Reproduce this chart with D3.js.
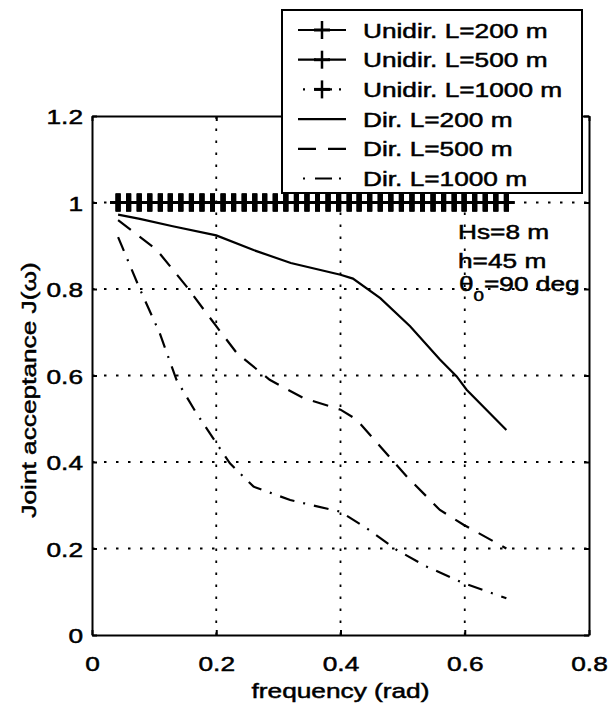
<!DOCTYPE html>
<html>
<head>
<meta charset="utf-8">
<script src="https://cdn.jsdelivr.net/npm/d3@7"></script>
<style>
  body { margin: 0; background: #fff; }
  svg { display: block; }
  text { font-family: "Liberation Sans", Arial, Helvetica, sans-serif; }
</style>
</head>
<body>
<svg id="chart" width="615" height="706"></svg>
<script>
// Tick values and labels
const xTicks = [0, 0.2, 0.4, 0.6, 0.8];
const xTickLabels = ["0", "0.2", "0.4", "0.6", "0.8"];
const yTicks = [0, 0.2, 0.4, 0.6, 0.8, 1, 1.2];
const yTickLabels = ["0", "0.2", "0.4", "0.6", "0.8", "1", "1.2"];

// Unidirectional sea: joint acceptance stays at 1 for every length
const freqUni = [0.042, 0.059, 0.076, 0.093, 0.110, 0.126, 0.143, 0.160, 0.177, 0.194,
                 0.211, 0.228, 0.245, 0.262, 0.278, 0.295, 0.312, 0.329, 0.346, 0.363,
                 0.380, 0.397, 0.414, 0.430, 0.447, 0.464, 0.481, 0.498, 0.515, 0.532,
                 0.549, 0.566, 0.583, 0.599, 0.616, 0.633, 0.650, 0.667];
const jUni200  = [1, 1, 1, 1, 1, 1, 1, 1, 1, 1, 1, 1, 1, 1, 1, 1, 1, 1, 1,
                  1, 1, 1, 1, 1, 1, 1, 1, 1, 1, 1, 1, 1, 1, 1, 1, 1, 1, 1];
const jUni500  = [1, 1, 1, 1, 1, 1, 1, 1, 1, 1, 1, 1, 1, 1, 1, 1, 1, 1, 1,
                  1, 1, 1, 1, 1, 1, 1, 1, 1, 1, 1, 1, 1, 1, 1, 1, 1, 1, 1];
const jUni1000 = [1, 1, 1, 1, 1, 1, 1, 1, 1, 1, 1, 1, 1, 1, 1, 1, 1, 1, 1,
                  1, 1, 1, 1, 1, 1, 1, 1, 1, 1, 1, 1, 1, 1, 1, 1, 1, 1, 1];

// Directional sea
const freqDir200 = [0.042, 0.077, 0.130, 0.200, 0.260, 0.320, 0.400, 0.420, 0.464, 0.512, 0.560, 0.587, 0.603, 0.667];
const jDir200    = [0.972, 0.962, 0.945, 0.924, 0.890, 0.860, 0.833, 0.824, 0.779, 0.714, 0.637, 0.598, 0.567, 0.474];
const freqDir500 = [0.042, 0.104, 0.152, 0.200, 0.233, 0.286, 0.340, 0.400, 0.426, 0.464, 0.507, 0.560, 0.598, 0.667];
const jDir500    = [0.959, 0.891, 0.806, 0.714, 0.652, 0.590, 0.548, 0.521, 0.498, 0.436, 0.366, 0.289, 0.255, 0.200];
const freqDir1000 = [0.042, 0.077, 0.109, 0.136, 0.168, 0.200, 0.222, 0.260, 0.319, 0.400, 0.442, 0.490, 0.539, 0.598, 0.667];
const jDir1000    = [0.920, 0.800, 0.698, 0.590, 0.513, 0.444, 0.397, 0.343, 0.312, 0.285, 0.247, 0.197, 0.158, 0.120, 0.085];

const legendLabels = ["Unidir. L=200 m", "Unidir. L=500 m", "Unidir. L=1000 m",
                      "Dir. L=200 m", "Dir. L=500 m", "Dir. L=1000 m"];
const annotationLines = ["Hs=8 m", "h=45 m"];

const SX = 1.25;           // horizontal stretch of the lettering
const FONT = 21;

const svg = d3.select("#chart");
const x = d3.scaleLinear().domain([0, 0.8]).range([92, 589]);
const y = d3.scaleLinear().domain([0, 1.2]).range([635, 116]);

function stretch(sel) {
  sel.attr("transform", function () {
    const ax = +this.getAttribute("x") || 0;
    return `translate(${ax},0) scale(${SX},1) translate(${-ax},0)`;
  });
}

// dotted grid
const grid = svg.append("g").attr("stroke", "#000").attr("stroke-width", 1.8)
  .attr("stroke-dasharray", "2.5,9.5").attr("fill", "none");
grid.selectAll("line.v").data([0.2, 0.4, 0.6]).join("line").attr("class", "v")
  .attr("x1", d => x(d)).attr("x2", d => x(d)).attr("y1", y(0)).attr("y2", y(1.2));
grid.selectAll("line.h").data([0.2, 0.4, 0.6, 0.8, 1.0]).join("line").attr("class", "h")
  .attr("x1", x(0)).attr("x2", x(0.8)).attr("y1", d => y(d)).attr("y2", d => y(d));

// curves
const line = d3.line().x(d => x(d[0])).y(d => y(d[1]));
const dash = { solid: null, dashed: "16,11", dashdot: "15,9,2,9" };
const dirSeries = [
  { f: freqDir200, j: jDir200, style: "solid" },
  { f: freqDir500, j: jDir500, style: "dashed" },
  { f: freqDir1000, j: jDir1000, style: "dashdot" }
];
const uniSeries = [
  { f: freqUni, j: jUni200, style: "solid" },
  { f: freqUni, j: jUni500, style: "dashed" },
  { f: freqUni, j: jUni1000, style: "dashdot" }
];
const plot = svg.append("g");
dirSeries.forEach(s => {
  plot.append("path").datum(d3.zip(s.f, s.j)).attr("d", line)
    .attr("fill", "none").attr("stroke", "#000").attr("stroke-width", 2.2)
    .attr("stroke-dasharray", dash[s.style]);
});

// plus marker: horizontal arm thinner than the vertical one
function plus(g, w) {
  g.append("path").attr("d", "M-8,0H8").attr("stroke", "#000").attr("stroke-width", 3);
  g.append("path").attr("d", "M0,-9V9").attr("stroke", "#000").attr("stroke-width", w);
}
uniSeries.forEach(s => {
  const pts = d3.zip(s.f, s.j);
  plot.append("path").datum(pts).attr("d", line)
    .attr("fill", "none").attr("stroke", "#000").attr("stroke-width", 2.2)
    .attr("stroke-dasharray", dash[s.style]);
  plot.append("g").selectAll("g").data(pts).join("g")
    .attr("transform", d => `translate(${x(d[0])},${y(d[1])})`)
    .each(function () { plus(d3.select(this), 5); });
});

// axes
function styleAxis(g) {
  g.attr("font-family", null).attr("font-size", FONT);
  g.select(".domain").attr("stroke-width", 2);
  g.selectAll(".tick line").attr("stroke-width", 2);
  g.selectAll("text").attr("fill", "#000").attr("stroke", "#000").attr("stroke-width", 0.5);
}
const gx = svg.append("g").attr("transform", `translate(0,${y(0)})`)
  .call(d3.axisBottom(x).tickValues(xTicks).tickFormat((d, i) => xTickLabels[i])
    .tickSizeInner(-5).tickSizeOuter(0).tickPadding(21));
styleAxis(gx); gx.selectAll("text").call(stretch);
const gy = svg.append("g").attr("transform", `translate(${x(0)},0)`)
  .call(d3.axisLeft(y).tickValues(yTicks).tickFormat((d, i) => yTickLabels[i])
    .tickSizeInner(-5).tickSizeOuter(0).tickPadding(9));
styleAxis(gy); gy.selectAll("text").attr("dy", "0.36em").call(stretch);
const gt = svg.append("g").attr("transform", `translate(0,${y(1.2)})`)
  .call(d3.axisTop(x).tickValues(xTicks).tickFormat("").tickSizeInner(-5).tickSizeOuter(0));
styleAxis(gt);
const gr = svg.append("g").attr("transform", `translate(${x(0.8)},0)`)
  .call(d3.axisRight(y).tickValues(yTicks).tickFormat("").tickSizeInner(-5).tickSizeOuter(0));
styleAxis(gr);

// axis titles
const xMid = (x(0) + x(0.8)) / 2;
svg.append("text").attr("x", xMid).attr("y", 698)
  .attr("text-anchor", "middle").attr("font-size", FONT)
  .attr("stroke", "#000").attr("stroke-width", 0.5)
  .text("frequency (rad)").call(stretch);
svg.append("text")
  .attr("transform", `translate(36,390) rotate(-90) scale(${SX},1)`)
  .attr("text-anchor", "middle").attr("font-size", FONT)
  .attr("stroke", "#000").attr("stroke-width", 0.5)
  .text("Joint acceptance J(\u03c9)");

// parameter notes
const notes = svg.append("g").attr("font-size", FONT).attr("stroke", "#000").attr("stroke-width", 0.5);
annotationLines.forEach((t, i) => {
  notes.append("text").attr("x", 458).attr("y", 239 + i * 29).text(t).call(stretch);
});
const th = notes.append("text").attr("x", 459).attr("y", 291);
th.append("tspan").text("\u03b8");
th.append("tspan").attr("font-size", 15).attr("dy", 10).text("0");
th.append("tspan").attr("dy", -10).text("=90 deg");
th.call(stretch);

// legend
const lg = svg.append("g");
lg.append("rect").attr("x", 282).attr("y", 10).attr("width", 300).attr("height", 183)
  .attr("fill", "#fff").attr("stroke", "#000").attr("stroke-width", 2);
const legendDash = { solid: null, dashed: "18,12,18", dashdot: "0,5,2,10,17,7,2,5" };
const legendStyles = ["solid", "dashed", "dashdot", "solid", "dashed", "dashdot"];
legendLabels.forEach((lab, i) => {
  const cy = 30 + i * 29.7;
  lg.append("line").attr("x1", 298).attr("x2", 346).attr("y1", cy).attr("y2", cy)
    .attr("stroke", "#000").attr("stroke-width", 2.2)
    .attr("stroke-dasharray", legendDash[legendStyles[i]]);
  if (i < 3) {
    plus(lg.append("g").attr("transform", `translate(322,${cy})`), 2.5);
  }
  lg.append("text").attr("x", 363).attr("y", cy).attr("dy", "0.36em")
    .attr("font-size", FONT).attr("stroke", "#000").attr("stroke-width", 0.5)
    .text(lab).call(stretch);
});
</script>
</body>
</html>
